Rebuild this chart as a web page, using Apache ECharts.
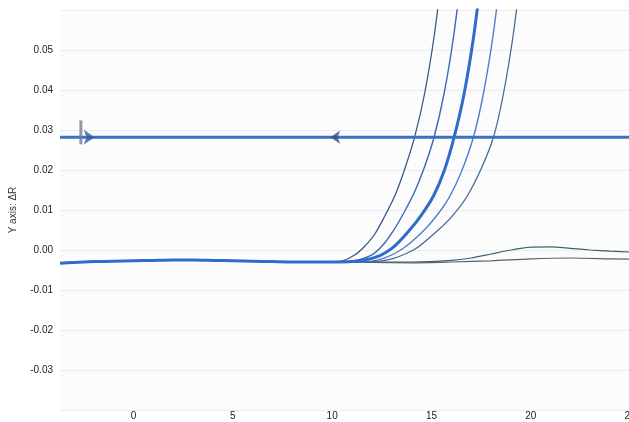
<!DOCTYPE html>
<html>
<head>
    <meta charset="utf-8">
    <title>Amplification plot</title>
    <script src="https://cdn.jsdelivr.net/npm/echarts@6/dist/echarts.min.js"></script>
    <style>
        html, body { margin: 0; padding: 0; overflow: hidden; background: #fff; }
    </style>
</head>
<body>
    <div id="ampChart" style="width: 660px;height:422px;"></div>
    <script type="text/javascript">
        // data (cycle, delta R)
        var xTicks = [0, 5, 10, 15, 20, 25];
        var threshold = 0.0282;
        var baseline = [[-3.7, -0.0033], [-3, -0.0031], [-2, -0.0029], [-1, -0.0028], [0, -0.0027],
            [1, -0.0026], [2, -0.0025], [3, -0.0025], [4, -0.0026], [5, -0.0027], [6, -0.0028],
            [7, -0.0029], [8, -0.003], [9, -0.003], [10, -0.003]];
        var amp1 = [[10.4, -0.0029], [11.15, -0.0012], [11.65, 0.001], [12.15, 0.004], [12.65, 0.0085], [13.15, 0.0135], [13.65, 0.0202], [14.15, 0.0282], [14.65, 0.039], [15.15, 0.054], [15.65, 0.074]];
        var amp2 = [[11, -0.0028], [12, -0.0012], [12.6, 0.0015], [13.13, 0.0052], [13.63, 0.0095], [14.13, 0.0143], [14.63, 0.0205], [15.13, 0.0282], [15.63, 0.039], [16.13, 0.054], [16.63, 0.074]];
        var amp3 = [[11, -0.0029], [12.2, -0.0018], [13.1, 0.0008], [13.9, 0.005], [14.5, 0.0088], [15.1, 0.0135], [15.64, 0.0198], [16.14, 0.0282], [16.64, 0.039], [17.14, 0.054], [17.64, 0.074]];
        var amp4 = [[11.2, -0.003], [12.5, -0.0022], [13.6, 0.0005], [14.6, 0.0048], [15.3, 0.0088], [15.9, 0.0132], [16.5, 0.0195], [17.11, 0.0282], [17.61, 0.039], [18.11, 0.054], [18.61, 0.074]];
        var amp5 = [[11.5, -0.003], [13, -0.0022], [14.2, 0.0003], [15.3, 0.0048], [16.1, 0.0088], [16.8, 0.0135], [17.5, 0.0203], [18.12, 0.0282], [18.62, 0.039], [19.12, 0.054], [19.62, 0.074]];
        var flat1 = [[12, -0.003], [14, -0.003], [16, -0.0026], [17, -0.002], [18, -0.001], [19, 0.0], [20, 0.0007], [21, 0.0008], [22, 0.0004], [23, 0.0], [24, -0.0003], [25, -0.0005], [26, -0.0006]];
        var flat2 = [[12, -0.0031], [14, -0.0032], [16, -0.003], [18, -0.0027], [20, -0.0022], [22, -0.002], [24, -0.0022], [26, -0.0024]];
        var arrowsRight = [[-1.95, 0.0282]];
        var arrowsLeft = [[9.9, 0.0282]];
        var startMark = [[-2.65, 0.0294]];

        var myChart = echarts.init(document.getElementById('ampChart'));

        function curve(name, pts, color, width) {
            return {
                name: name,
                type: 'line',
                data: baseline.concat(pts),
                smooth: 0.25,
                showSymbol: false,
                clip: true,
                lineStyle: { color: color, width: width },
                z: 3
            };
        }

        var option = {
            animation: false,
            textStyle: { fontFamily: 'Liberation Sans, Arial, sans-serif' },
            grid: {
                left: 59,
                top: 10,
                right: 10,
                bottom: 12,
                show: true,
                backgroundColor: '#fcfcfc',
                borderWidth: 0
            },
            xAxis: {
                type: 'value',
                min: -3.7,
                max: 26,
                axisLine: { show: false },
                axisTick: { show: false },
                splitLine: { show: false },
                axisLabel: {
                    customValues: xTicks,
                    fontSize: 10,
                    color: '#222',
                    margin: 1
                }
            },
            yAxis: {
                type: 'value',
                min: -0.04,
                max: 0.06,
                interval: 0.01,
                name: 'Y axis: ΔR',
                nameLocation: 'middle',
                nameGap: 42,
                nameTextStyle: { fontSize: 10, color: '#333' },
                axisLine: { show: false },
                axisTick: { show: false },
                splitLine: { lineStyle: { color: '#ececec', width: 1 } },
                axisLabel: {
                    fontSize: 10,
                    color: '#222',
                    margin: 7,
                    showMinLabel: false,
                    showMaxLabel: false,
                    formatter: function (v) { return v.toFixed(2); }
                }
            },
            series: [
                curve('flat1', flat1, '#3f5f72', 1.2),
                curve('flat2', flat2, '#55656f', 1.2),
                curve('amp1', amp1, '#3b5a8c', 1.3),
                curve('amp2', amp2, '#3868b8', 1.4),
                curve('amp4', amp4, '#4d7fcf', 1.4),
                curve('amp5', amp5, '#4a6a9a', 1.3),
                curve('amp3', amp3, '#2f6cc9', 3),
                {
                    name: 'threshold',
                    type: 'line',
                    data: [[-3.7, threshold], [26, threshold]],
                    showSymbol: false,
                    lineStyle: { color: '#3d70c2', width: 3 },
                    z: 4
                },
                {
                    name: 'start',
                    type: 'scatter',
                    data: startMark,
                    symbol: 'rect',
                    symbolSize: [3, 24],
                    itemStyle: { color: '#6f7f99' },
                    z: 5
                },
                {
                    name: 'arrowR',
                    type: 'scatter',
                    data: arrowsRight,
                    symbol: 'arrow',
                    symbolRotate: -90,
                    symbolSize: [11, 11],
                    itemStyle: { color: '#2d5ea8' },
                    z: 5
                },
                {
                    name: 'arrowL',
                    type: 'scatter',
                    data: arrowsLeft,
                    symbol: 'arrow',
                    symbolRotate: 90,
                    symbolSize: [10, 10],
                    itemStyle: { color: '#34507a' },
                    z: 5
                }
            ]
        };

        myChart.setOption(option);
    </script>
</body>
</html>
